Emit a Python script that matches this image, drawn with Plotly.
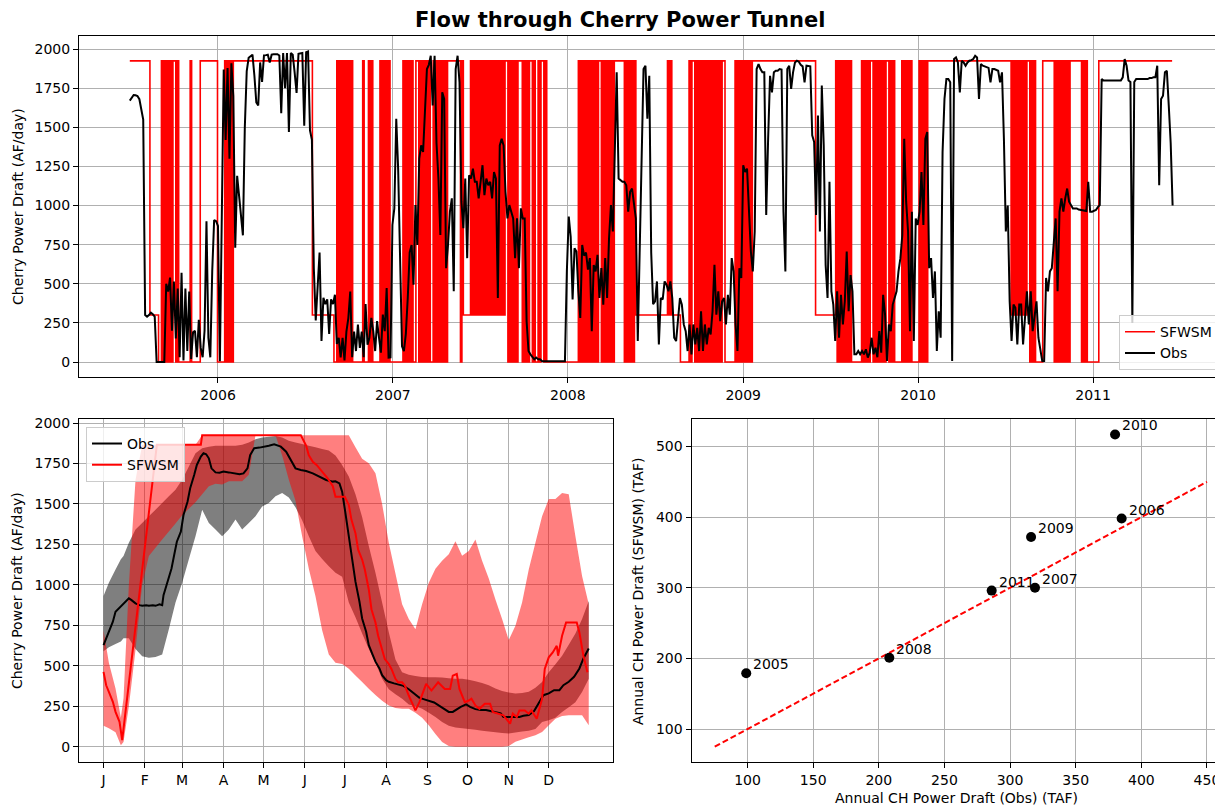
import pandas as pd
import plotly.graph_objects as go

W, H = 1223, 809
OFF = 8  # the page body margin pushes the figure 8 px right and down

# ---------------- top panel: daily flow through the tunnel ----------------
# Obs, every 4 days starting 2005-07-01 (AF/day)
obs_start = "2005-07-01"
obs_step_days = 4
obs_flow = [
    1671, 1690, 1707, 1705, 1700, 1680, 1620, 1550, 300, 290,
    300, 315, 305, 290, 0, 0, 0, 0, 0, 500,
    450, 540, 200, 515, 150, 470, 30, 570, 10, 470,
    70, 450, 20, 190, 200, 30, 270, 90, 30, 200,
    900, 155, 30, 580, 908, 900, 870, 5, 1014, 1870,
    1420, 1880, 1300, 1910, 1700, 730, 1190, 1050, 940, 810,
    1500, 1860, 1945, 1955, 1965, 1830, 1660, 1640, 1915, 1790,
    1960, 1962, 1965, 1915, 1965, 1968, 1968, 1968, 1960, 1590,
    1975, 1750, 1975, 1470, 1975, 1965, 1850, 1720, 1970, 1975,
    1975, 1510, 1980, 1985, 1480, 1420, 600, 265, 450, 700,
    135, 410, 370, 400, 180, 400, 370, 430, 115, 155,
    30, 155, 10, 195, 280, 450, 30, 195, 70, 240,
    90, 195, 30, 370, 110,
    155, 282, 197, 70, 261, 155, 60, 303, 197, 473,
    28, 30, 876, 982, 1555, 1230, 706, 100, 70, 180,
    409, 700, 748, 494, 1003, 748, 1300, 1385, 1343, 1640,
    1873, 1900, 1958, 1640, 1958, 1400, 1173, 812, 1724, 1682,
    600, 748, 961, 1046, 452, 1873, 1958, 1788, 1025, 855,
    1173, 664, 1194, 1173, 1236, 1152, 1152, 1046, 1173, 1258,
    1067, 1173, 1130, 1152, 1046, 1215, 1173, 409, 1385, 1427,
    1385, 1088, 918, 1003, 961, 918, 664, 918, 600, 982,
    918, 918, 260, 70, 49, 30, 17, 28, 17, 17,
    6, 5, 5, 5, 5, 5, 5, 5, 5, 5, 5, 5, 5,
    580, 930, 800, 400, 727, 706, 452, 282, 748, 680,
    700, 590, 664, 197, 620, 579, 685, 409, 600, 367,
    664, 409, 791, 1003, 834, 1406, 1852, 1173, 1162, 1152,
    1152, 1130, 961, 1088, 1109, 1003, 918, 134, 706, 1088,
    1873, 1894, 1555, 1830,
    700, 370, 388, 515, 112, 409, 400, 515, 494, 452,
    515, 409, 155, 134, 303, 409, 367, 240, 197, 70,
    240, 49, 240, 112, 218, 70, 324, 70, 240, 112,
    218, 176, 324, 621, 303, 452, 261, 388, 409, 240,
    430, 303, 664, 579, 240, 70, 600, 537, 1258, 1215,
    1236, 918, 706, 579, 834, 1873, 1905, 1873, 1852, 1852,
    940, 1427, 1830, 1724, 1852, 1862, 1862, 1873, 1870, 961,
    579, 1873, 1894, 1746, 1852, 1915, 1926, 1920, 1900, 1890,
    1788, 1894, 1894, 1890, 1449, 1406, 940, 1576, 834, 1767,
    1385, 621, 409, 1152, 452, 367, 134, 452, 155, 430,
    240, 388, 706, 324, 556, 452, 49, 49, 70, 49,
    70, 49, 81, 28, 60, 155, 49, 91, 30, 197,
    60, 430, 303, 6, 240, 197, 367, 409, 452, 579,
    664, 812, 1427, 1025, 834, 197, 961, 134, 918, 876,
    961, 1215, 876, 1427, 1470,
    600, 664, 409, 579, 70, 324, 155, 1343, 1682, 1809,
    1809, 1788, 6, 1937, 1947, 1915, 1724, 1926, 1915, 1894,
    1915, 1926, 1930, 1937, 1958, 1947, 1682, 1905, 1894, 1890,
    1883, 1880, 1788, 1873, 1873, 1868, 1862, 1788, 1852, 1427,
    834, 1000, 388, 134, 367, 346, 112, 367, 367, 112,
    282, 452, 240, 452, 197, 282, 388, 155, 91, 6,
    6, 537, 452, 579, 600, 791, 918, 452, 961, 1046,
    961, 1046, 1109, 1025, 1003, 982, 982, 982, 975, 972,
    972, 970, 965, 1152, 961, 961, 965, 972, 990, 1003,
    1809, 1799, 1799, 1799, 1799, 1799, 1799, 1799, 1799, 1799,
    1799, 1820, 1937, 1894, 1800, 1790, 250, 1790, 1809, 1809,
    1809, 1809, 1805, 1809, 1809, 1815, 1815, 1820, 1820, 1894,
    1130, 1682, 1703, 1852, 1862, 1640, 1400, 1000,
]

# SFWSM, one code every 3 days starting 2005-07-01, run-length coded
sfwsm_start = "2005-07-01"
sfwsm_step_days = 3
sfwsm_levels = {"H": 1925, "M": 300, "L": 0}
sfwsm_runs = [
    ("H", 14), ("M", 6), ("L", 2), ("HLHLHLHLHHLHL", 1), ("L", 7), ("H", 1),
    ("L", 6), ("H", 12), ("L", 5), ("HLHLHL", 1), ("H", 55), ("M", 15),
    ("L", 2), ("HLHLHLHLHLHLL", 1), ("L", 5), ("HLLLHLH", 1), ("L", 5),
    ("HLHLHLHL", 1), ("L", 8), ("HLHLHLH", 1), ("LLH", 1), ("HLHLHLHLHL", 1),
    ("LHLHLHLHLHLH", 1), ("H", 8), ("LH", 1), ("M", 5), ("HM", 12), ("H", 1),
    ("HLHLHLHLHHHLHLHLHHLHLLHLHHLHL", 1), ("L", 21), ("HLHLHLHLHLHLHLH", 1),
    ("H", 1), ("LHLHLHLHLH", 1), ("H", 6), ("LHLHLHLH", 1), ("M", 22),
    ("HMH", 1), ("M", 6), ("L", 6), ("HLHHLHLHLHLHLHLHLHLHLHLHH", 1), ("L", 7),
    ("HLHLHLHLHLHLH", 1), ("H", 43), ("M", 14), ("HLHLHLHLHLHL", 1), ("L", 6),
    ("HLHLHLHHLHLHLHLHLHHLHLHL", 1), ("L", 4), ("HLHLHLHL", 1), ("L", 4),
    ("HLHLHL", 1), ("H", 57), ("HM", 6), ("H", 1), ("HLHLHL", 1), ("L", 4),
    ("H", 7), ("HLHLHLHLHLHL", 1), ("H", 7), ("HLHLH", 1), ("L", 8), ("H", 51),
]

year_ticks = ["2006-01-01", "2007-01-01", "2008-01-01", "2009-01-01", "2010-01-01", "2011-01-01"]
year_labels = ["2006", "2007", "2008", "2009", "2010", "2011"]

# ---------------- bottom-left: by day of year ----------------
month_doy = [1, 32, 60, 91, 121, 152, 182, 213, 244, 274, 305, 335]
month_labels = ["J", "F", "M", "A", "M", "J", "J", "A", "S", "O", "N", "D"]

obs_mean_doy = [1, 5, 8, 10, 13, 15, 18, 20, 22, 25, 28, 30, 33, 35, 38, 40, 43, 45, 46, 49,
                52, 54, 56, 59, 61, 64, 66, 69, 71, 74, 76, 78, 80, 82, 85, 88, 91, 95, 99, 103,
                106, 109, 111, 114, 118, 121, 125, 129, 131, 134, 138, 142, 145, 149, 153, 158,
                163, 168, 173, 175, 178, 180, 182, 185, 188, 190, 193, 195, 198, 200, 203, 205,
                208, 210, 213, 215, 219, 223, 226, 230, 234, 238, 241, 245, 249, 253, 256, 260,
                263, 265, 269, 273, 276, 280, 284, 288, 291, 295, 299, 301, 305, 309, 313, 316,
                320, 324, 328, 331, 335, 339, 343, 346, 350, 354, 358, 361, 365]
obs_mean = [628, 711, 773, 834, 859, 875, 906, 917, 906, 886, 875, 871, 875, 871, 875, 871, 880, 875, 937, 1020,
            1102, 1185, 1267, 1329, 1432, 1514, 1597, 1679, 1741, 1793, 1813, 1807, 1782, 1720, 1695, 1693, 1700, 1695, 1689, 1683,
            1689, 1720, 1802, 1844, 1848, 1852, 1860, 1868, 1864, 1854, 1823, 1761, 1720, 1710, 1704, 1689,
            1669, 1648, 1638, 1640, 1627, 1576, 1470, 1300, 1143, 1020, 896, 793, 711, 628, 567, 526,
            484, 443, 412, 402, 392, 385, 377, 356, 330, 303, 295, 282, 274, 253, 237, 216,
            216, 227, 247, 262, 247, 233, 227, 227, 221, 216, 206, 185, 185, 185, 185, 192,
            196, 221, 278, 319, 330, 350, 350, 381, 402, 433, 484, 546, 608]

sf_mean_doy = [1, 3, 5, 8, 10, 13, 15, 41, 74, 75, 149, 153, 155, 158, 161, 165, 169, 173, 175, 182,
               185, 187, 190, 192, 195, 197, 200, 202, 205, 207, 210, 212, 215, 217, 220, 222, 225, 227,
               230, 232, 235, 238, 243, 247, 250, 252, 257, 261, 263, 266, 268, 272, 275, 277, 280, 283,
               287, 291, 293, 297, 301, 303, 306, 308, 311, 313, 317, 320, 322, 326, 330, 332, 335, 338,
               341, 342, 345, 348, 352, 356, 358, 361, 364]
sf_mean = [463, 380, 340, 278, 216, 155, 41, 1865, 1865, 1925, 1925, 1860, 1800, 1760, 1740, 1700, 1660, 1610, 1545, 1545,
           1494, 1402, 1320, 1218, 1157, 1095, 972, 850, 768, 686, 604, 542, 512, 481, 420, 399, 399, 379,
           317, 276, 225, 276, 389, 348, 379, 399, 358, 358, 440, 450, 358, 276, 286, 297, 256, 235,
           266, 266, 215, 205, 195, 174, 143, 205, 184, 225, 225, 205, 225, 174, 297, 481, 553, 583,
           624, 563, 686, 768, 768, 768, 706, 563, 461]

band_doy = [1, 5, 10, 14, 16, 20, 25, 30, 35, 40, 45, 50, 55, 60, 65, 70, 75, 80, 85, 90,
            95, 100, 105, 110, 115, 120, 125, 130, 135, 140, 145, 150, 155, 160, 165, 170, 175, 180, 185, 190,
            195, 200, 205, 210, 215, 220, 225, 230, 235, 240, 245, 250, 255, 260, 265, 270, 275, 280, 285, 290,
            295, 300, 305, 310, 315, 320, 325, 330, 335, 340, 345, 350, 355, 360, 365]
obs_lo = [590, 615, 635, 650, 670, 670, 604, 560, 550, 555, 570, 727, 891, 1014, 1158, 1301, 1465, 1383, 1342, 1301,
          1342, 1404, 1342, 1383, 1424, 1485, 1506, 1547, 1567, 1540, 1480, 1400, 1300, 1210, 1160, 1115, 1075, 1050, 891, 800,
          700, 604, 520, 420, 355, 325, 297, 262, 250, 236, 210, 185, 154, 130, 120, 115, 110, 105, 100, 95,
          90, 85, 82, 88, 95, 100, 110, 154, 165, 180, 215, 245, 275, 338, 420]
obs_hi = [932, 1014, 1096, 1158, 1178, 1260, 1342, 1383, 1424, 1465, 1506, 1547, 1588, 1649, 1731, 1813, 1844, 1854, 1860, 1860,
          1860, 1860, 1865, 1880, 1900, 1910, 1915, 1920, 1910, 1890, 1880, 1870, 1860, 1850, 1840, 1830, 1800, 1740, 1670, 1560,
          1420, 1240, 1076, 891, 707, 540, 460, 445, 438, 432, 430, 430, 428, 424, 420, 420, 415, 405, 395, 380,
          360, 345, 335, 330, 332, 340, 365, 400, 460, 510, 563, 630, 700, 789, 900]
sf_lo = [130, 115, 90, 10, 30, 250, 600, 1000, 1178, 1230, 1280, 1330, 1380, 1430, 1470, 1510, 1560, 1610, 1625, 1620,
         1640, 1640, 1640, 1680, 1925, 1925, 1925, 1925, 1800, 1650, 1520, 1300, 1100, 930, 720, 570, 520, 512, 482, 440,
         400, 359, 320, 285, 256, 240, 236, 236, 210, 180, 133, 80, 30, 5, 0, 0, 0, 0, 0, 0,
         0, 0, 5, 31, 45, 60, 72, 92, 133, 174, 190, 195, 195, 195, 133]
sf_hi = [720, 520, 360, 180, 300, 1000, 1650, 1865, 1865, 1865, 1865, 1865, 1865, 1865, 1865, 1865, 1925, 1925, 1925, 1925,
         1925, 1925, 1925, 1925, 1925, 1925, 1925, 1925, 1925, 1925, 1925, 1925, 1925, 1925, 1925, 1925, 1925, 1925, 1925, 1850,
         1780, 1752, 1690, 1500, 1260, 1070, 880, 789, 727, 880, 1014, 1100, 1150, 1190, 1270, 1180, 1210, 1280, 1150, 1040,
         910, 790, 660, 748, 891, 1096, 1260, 1424, 1530, 1530, 1567, 1560, 1300, 1055, 880]

# ---------------- bottom-right: annual totals (TAF) ----------------
years = ["2005", "2006", "2007", "2008", "2009", "2010", "2011"]
annual_obs = [99, 385, 319, 208, 316, 380, 286]
annual_sfwsm = [179, 398, 300, 201, 372, 517, 296]
one_to_one = [75, 450]

# ---------------- build ----------------
obs_dates = pd.date_range(obs_start, periods=len(obs_flow), freq=f"{obs_step_days}D")
sf_codes = "".join(p * n for p, n in sfwsm_runs)
sf_vals = [sfwsm_levels[c] for c in sf_codes] + [sfwsm_levels[sf_codes[-1]]]
sf_dates = pd.date_range(sfwsm_start, periods=len(sf_vals), freq=f"{sfwsm_step_days}D")

FONT = "DejaVu Sans"
GRID = "#b0b0b0"
FW, FH = W - OFF, H - OFF

fig = go.Figure()

# top panel
fig.add_trace(go.Scatter(x=sf_dates, y=sf_vals, mode="lines", name="SFWSM",
                         line=dict(color="red", width=1.6, shape="hv"),
                         xaxis="x", yaxis="y", legend="legend"))
fig.add_trace(go.Scatter(x=obs_dates, y=obs_flow, mode="lines", name="Obs",
                         line=dict(color="black", width=2),
                         xaxis="x", yaxis="y", legend="legend"))

# bottom-left bands then lines
fig.add_trace(go.Scatter(x=band_doy + band_doy[::-1], y=obs_hi + obs_lo[::-1],
                         fill="toself", fillcolor="rgba(0,0,0,0.5)", mode="none",
                         showlegend=False, hoverinfo="skip", xaxis="x2", yaxis="y2"))
fig.add_trace(go.Scatter(x=band_doy + band_doy[::-1], y=sf_hi + sf_lo[::-1],
                         fill="toself", fillcolor="rgba(255,0,0,0.5)", mode="none",
                         showlegend=False, hoverinfo="skip", xaxis="x2", yaxis="y2"))
fig.add_trace(go.Scatter(x=obs_mean_doy, y=obs_mean, mode="lines", name="Obs",
                         line=dict(color="black", width=2),
                         xaxis="x2", yaxis="y2", legend="legend2"))
fig.add_trace(go.Scatter(x=sf_mean_doy, y=sf_mean, mode="lines", name="SFWSM",
                         line=dict(color="red", width=2),
                         xaxis="x2", yaxis="y2", legend="legend2"))

# bottom-right scatter
fig.add_trace(go.Scatter(x=one_to_one, y=one_to_one, mode="lines", showlegend=False,
                         line=dict(color="red", width=2, dash="6px,3px"),
                         xaxis="x3", yaxis="y3"))
fig.add_trace(go.Scatter(x=annual_obs, y=annual_sfwsm, mode="markers", showlegend=False,
                         marker=dict(color="black", size=10),
                         xaxis="x3", yaxis="y3"))
for yr, xo, ys in zip(years, annual_obs, annual_sfwsm):
    fig.add_annotation(x=xo, y=ys, xref="x3", yref="y3", text=yr, showarrow=False,
                       xanchor="left", yanchor="bottom", xshift=5, yshift=-1,
                       font=dict(family=FONT, size=14, color="black"))


def px_x(p):
    return (p - OFF) / FW


def px_y(p):
    return 1 - (p - OFF) / FH


axis_common = dict(showline=True, mirror=True, linecolor="black", linewidth=1,
                   ticks="outside", ticklen=5, tickcolor="black", showgrid=True,
                   gridcolor=GRID, gridwidth=1, zeroline=False,
                   tickfont=dict(family=FONT, size=14, color="black"))

fig.update_layout(
    width=FW, height=FH, margin=dict(l=0, r=0, t=0, b=0),
    plot_bgcolor="white", paper_bgcolor="white",
    font=dict(family=FONT, size=14, color="black"),
    xaxis=dict(domain=[px_x(79), px_x(1221)], anchor="y", type="date",
               range=["2005-03-17", "2011-09-25"], tickvals=year_ticks, ticktext=year_labels,
               **axis_common),
    yaxis=dict(domain=[px_y(375), px_y(32)], anchor="x", range=[-97, 2085],
               tickvals=list(range(0, 2001, 250)), **axis_common),
    xaxis2=dict(domain=[px_x(79), px_x(613)], anchor="y2", range=[-17.4, 383.2],
                tickvals=month_doy, ticktext=month_labels, **axis_common),
    yaxis2=dict(domain=[px_y(762), px_y(417)], anchor="x2", range=[-95, 2025],
                tickvals=list(range(0, 2001, 250)), **axis_common),
    xaxis3=dict(domain=[px_x(691.5), px_x(1221)], anchor="y3", range=[57.3, 460.7],
                tickvals=list(range(100, 451, 50)), **axis_common),
    yaxis3=dict(domain=[px_y(762), px_y(417)], anchor="x3", range=[53, 539],
                tickvals=list(range(100, 501, 100)), **axis_common),
    legend=dict(x=px_x(1218), y=px_y(368), xanchor="right", yanchor="bottom",
                bgcolor="rgba(255,255,255,0.8)", bordercolor="#cccccc", borderwidth=1,
                font=dict(family=FONT, size=14), itemwidth=30),
    legend2=dict(x=px_x(86), y=px_y(425), xanchor="left", yanchor="top",
                 bgcolor="rgba(255,255,255,0.8)", bordercolor="#cccccc", borderwidth=1,
                 font=dict(family=FONT, size=14), itemwidth=30),
)

labels = [
    dict(x=px_x(619.5), y=px_y(16), text="<b>Flow through Cherry Power Tunnel</b>",
         font=dict(family=FONT, size=21, color="black")),
    dict(x=px_x(18), y=px_y(204), text="Cherry Power Draft (AF/day)", textangle=-90),
    dict(x=px_x(17), y=px_y(590), text="Cherry Power Draft (AF/day)", textangle=-90),
    dict(x=px_x(638), y=px_y(590), text="Annual CH Power Draft (SFWSM) (TAF)", textangle=-90),
    dict(x=px_x(956), y=px_y(798), text="Annual CH Power Draft (Obs) (TAF)"),
]
for a in labels:
    a.setdefault("font", dict(family=FONT, size=14, color="black"))
    fig.add_annotation(xref="paper", yref="paper", showarrow=False,
                       xanchor="center", yanchor="middle", **a)

fig.write_html("out.html")
